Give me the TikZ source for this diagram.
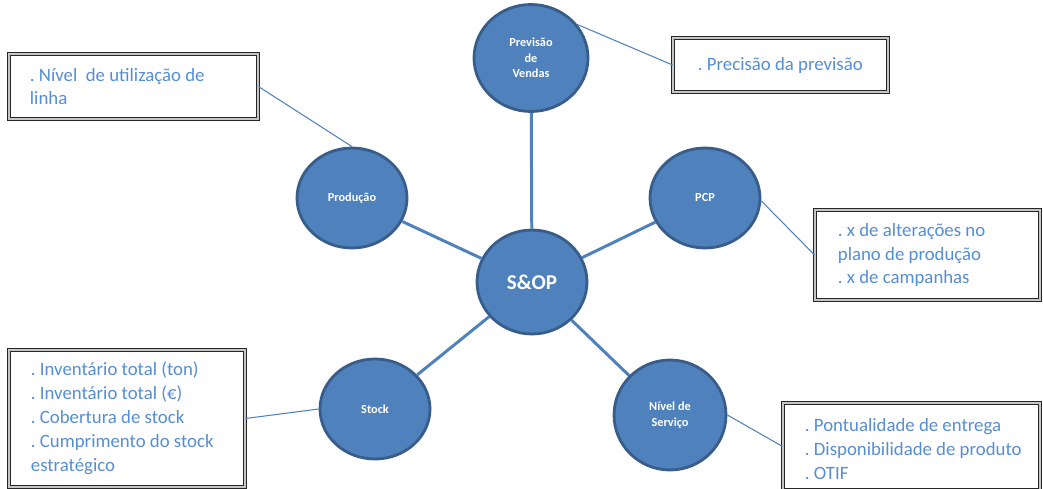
\documentclass[tikz,border=0pt]{standalone}
\usepackage{fontspec}
\setmainfont{Carlito}
\frenchspacing
\usetikzlibrary{shapes.geometric}
\definecolor{sopblue}{RGB}{79,129,189}
\definecolor{sopedge}{RGB}{56,93,138}
\definecolor{boxtext}{RGB}{85,142,213}
\tikzset{
  kpi/.style={ellipse, draw=sopedge, line width=1.6pt, fill=sopblue, text=white, font=\fontsize{7}{8.8}\selectfont\bfseries, align=center, inner sep=0pt, minimum width=2.2cm, minimum height=2.0cm},
  infobox/.style={rectangle, draw=black!85, line width=0.5pt, double=gray!45, double distance=1.4pt, fill=white, inner sep=0pt},
  infotext/.style={anchor=west, text=boxtext, font=\fontsize{10.7}{13.6}\selectfont, align=left, inner sep=0pt},
  spoke/.style={draw=sopblue, line width=1.7pt},
  link/.style={draw=sopblue, line width=0.6pt},
}

\begin{document}
\begin{tikzpicture}[x=0.02cm, y=-0.02cm]
  \useasboundingbox (0,0) rectangle (1043,489);
  % indicator boxes
  \node[infobox, minimum width=4.98cm, minimum height=1.30cm] (linhabox) at (133.5,86.5) {};
  \node[infobox, minimum width=4.30cm, minimum height=1.08cm] (precbox) at (780.5,65) {};
  \node[infobox, minimum width=4.50cm, minimum height=1.80cm] (pcpbox) at (927.5,255) {};
  \node[infobox, minimum width=4.72cm, minimum height=2.74cm] (stockbox) at (127,418.5) {};
  \node[infobox, minimum width=5.14cm, minimum height=1.74cm] (servbox) at (911.5,446.5) {};
  \node[infotext] (linhatext) at ([xshift=0.42cm]linhabox.west) {. Nível\ \ de utilização de\\linha};
  \node[infotext] (prectext) at ([xshift=0.50cm]precbox.west) {. Precisão da previsão};
  \node[infotext] (pcptext) at ([xshift=0.46cm]pcpbox.west) {. x de alterações no\\plano de produção\\. x de campanhas};
  \node[infotext] (stocktext) at ([xshift=0.44cm]stockbox.west) {. Inventário total (ton)\\. Inventário total (€)\\. Cobertura de stock\\. Cumprimento do stock\\estratégico};
  \node[infotext] (servtext) at ([xshift=0.44cm, yshift=-0.05cm]servbox.west) {. Pontualidade de entrega\\. Disponibilidade de produto\\. OTIF};
  % areas
  \node[kpi, minimum width=2.28cm, minimum height=2.14cm] (prev) at (531,58) {Previsão\\de\\Vendas};
  \node[kpi] (prod) at (352,198) {Produção};
  \node[kpi, minimum height=2.08cm, font=\fontsize{12}{14}\selectfont\bfseries] (sop) at (532,282) {S\&OP};
  \node[kpi] (pcp) at (705,198) {PCP};
  \node[kpi] (stock) at (375,409) {Stock};
  \node[kpi, minimum width=2.24cm, minimum height=2.2cm] (serv) at (670,415) {Nível de\\Serviço};
  % spokes
  \draw[spoke] (sop) -- (prev);
  \draw[spoke] (sop) -- (prod);
  \draw[spoke] (sop) -- (pcp);
  \draw[spoke] (sop) -- (stock);
  \draw[spoke] (sop) -- (serv);
  % links to boxes
  \draw[link] (linhabox.east) -- (prod.north);
  \draw[link] (prev.36) -- (precbox.west);
  \draw[link] (pcp.-3) -- (pcpbox.west);
  \draw[link] (stockbox.east) -- (stock.west);
  \draw[link] (serv.east) -- (servbox.west);
\end{tikzpicture}
\end{document}
